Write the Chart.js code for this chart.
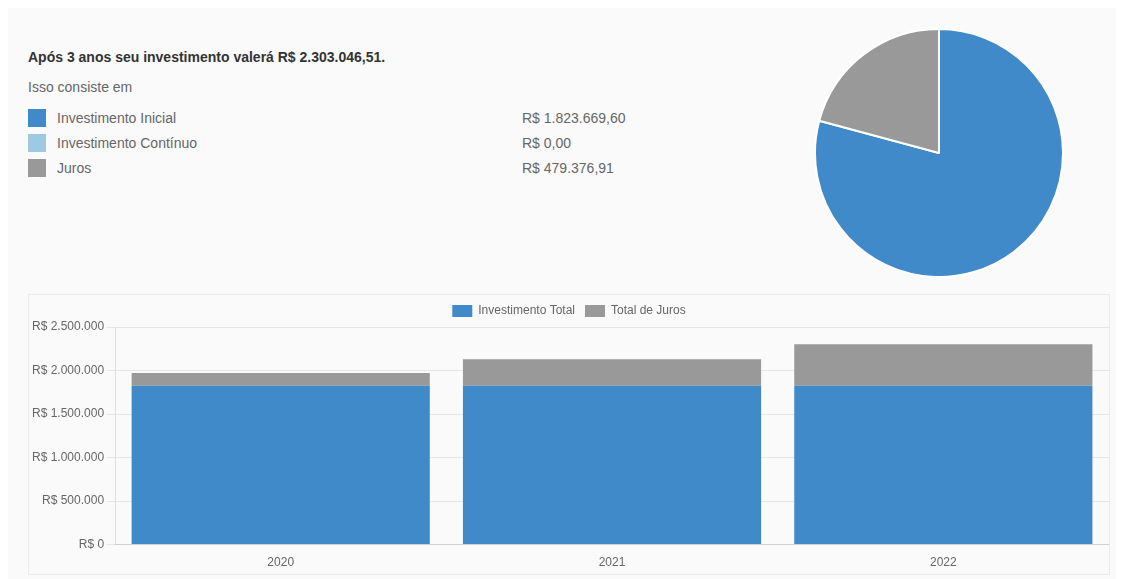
<!DOCTYPE html>
<html>
<head>
<meta charset="utf-8">
<script src="https://cdn.jsdelivr.net/npm/chart.js@4/dist/chart.umd.min.js"></script>
<style>
  html, body { margin: 0; padding: 0; background: #ffffff; }
  body { width: 1126px; height: 579px; position: relative; overflow: hidden;
         font-family: "Liberation Sans", Arial, sans-serif; }
  #panel { position: absolute; left: 8px; top: 8px; width: 1108px; height: 571px; background: #fafafa; }
  .t { position: absolute; white-space: nowrap; font-size: 14px; color: #666; line-height: 16px; }
  #title { left: 28px; top: 49px; font-weight: bold; color: #333; }
  #sub { left: 28px; top: 79px; }
  .box { position: absolute; left: 28px; width: 18px; height: 18px; }
  #pieWrap { position: absolute; left: 814px; top: 28px; width: 250px; height: 250px; }
  #barWrap { position: absolute; left: 28px; top: 294px; width: 1082px; height: 281px;
             box-sizing: border-box; border: 1px solid #ececec; background: #fafafa; }
</style>
</head>
<body>
<div id="panel"></div>
<div class="t" id="title"></div>
<div class="t" id="sub">Isso consiste em</div>
<div id="rows"></div>
<div id="pieWrap"><canvas id="pie" width="250" height="250"></canvas></div>
<div id="barWrap"><canvas id="bar" width="1080" height="279"></canvas></div>
<script>
// ---- data ----
const years = ['2020', '2021', '2022'];
const investimentoTotal = [1823669.60, 1823669.60, 1823669.60];
const totalJuros = [147500, 307000, 479376.91];
const pieLabels = ['Investimento Inicial', 'Investimento Contínuo', 'Juros'];
const pieValues = [1823669.60, 0, 479376.91];
const finalValue = 2303046.51;
const anos = 3;
const yMax = 2500000;
const yStep = 500000;
const seriesNames = ['Investimento Total', 'Total de Juros'];
const colors = ['#408aca', '#9ecae1', '#999999'];

function fmt(v, dec) {
  const neg = v < 0; v = Math.abs(v);
  let s = v.toFixed(dec);
  let [ip, fp] = s.split('.');
  ip = ip.replace(/\B(?=(\d{3})+(?!\d))/g, '.');
  return (neg ? '-' : '') + ip + (fp !== undefined ? ',' + fp : '');
}

document.getElementById('title').textContent =
  'Após ' + anos + ' anos seu investimento valerá R$ ' + fmt(finalValue, 2) + '.';

const rows = document.getElementById('rows');
pieLabels.forEach((lab, i) => {
  const top = 109 + i * 25;
  const b = document.createElement('div');
  b.className = 'box'; b.style.top = top + 'px'; b.style.background = colors[i];
  rows.appendChild(b);
  const l = document.createElement('div');
  l.className = 't'; l.style.left = '57px'; l.style.top = (top + 1) + 'px'; l.textContent = lab;
  rows.appendChild(l);
  const v = document.createElement('div');
  v.className = 't'; v.style.left = '522px'; v.style.top = (top + 1) + 'px';
  v.textContent = 'R$ ' + fmt(pieValues[i], 2);
  rows.appendChild(v);
});

Chart.defaults.font.family = '"Liberation Sans", Arial, sans-serif';
Chart.defaults.font.size = 12;
Chart.defaults.color = '#666';

new Chart(document.getElementById('pie'), {
  type: 'pie',
  data: {
    labels: pieLabels,
    datasets: [{ data: pieValues, backgroundColor: colors, borderColor: '#ffffff', borderWidth: 2 }]
  },
  options: {
    responsive: false, animation: false,
    plugins: { legend: { display: false }, tooltip: { enabled: false } }
  }
});

new Chart(document.getElementById('bar'), {
  type: 'bar',
  data: {
    labels: years,
    datasets: [
      { label: seriesNames[0], data: investimentoTotal, backgroundColor: colors[0] },
      { label: seriesNames[1], data: totalJuros, backgroundColor: colors[2] }
    ]
  },
  options: {
    responsive: false, animation: false,
    layout: { padding: { bottom: 1 } },
    datasets: { bar: { barPercentage: 0.9, categoryPercentage: 1.0 } },
    plugins: {
      legend: { position: 'top', labels: { boxWidth: 20, boxHeight: 12, padding: 10, color: '#666' } },
      tooltip: { enabled: false }
    },
    scales: {
      x: { stacked: true, grid: { display: false }, border: { color: 'rgba(0,0,0,0.1)' },
           ticks: { color: '#666' } },
      y: { stacked: true, min: 0, max: yMax,
           grid: { color: 'rgba(0,0,0,0.08)' },
           border: { color: 'rgba(0,0,0,0.1)' },
           ticks: { stepSize: yStep, color: '#666', callback: v => 'R$ ' + fmt(v, 0) } }
    }
  }
});
</script>
</body>
</html>
